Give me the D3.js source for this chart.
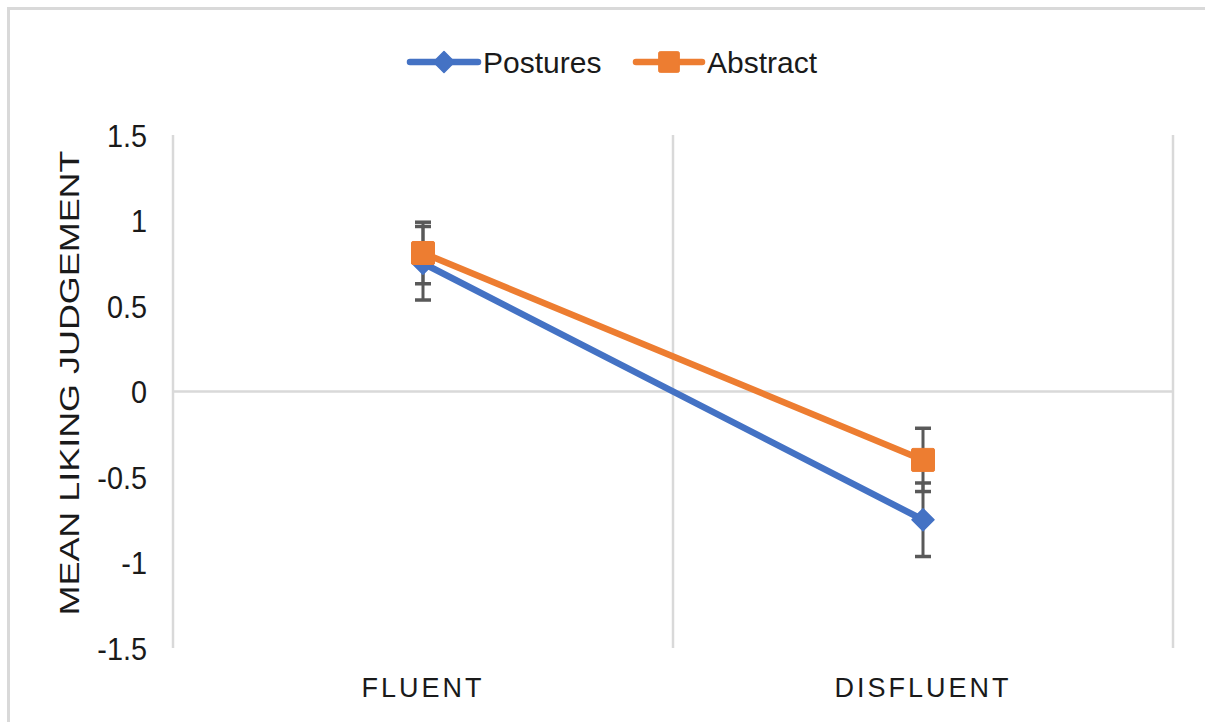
<!DOCTYPE html>
<html>
<head>
<meta charset="utf-8">
<script src="https://cdn.jsdelivr.net/npm/d3@7"></script>
<style>
  html, body { margin: 0; padding: 0; background: #fff; }
  svg { display: block; font-family: "Liberation Sans", Arial, Helvetica, sans-serif; }
</style>
</head>
<body>
<svg id="chart" width="1205" height="722"></svg>
<script>
// Conditions along the x axis
const categories = ["FLUENT", "DISFLUENT"];
// Series names
const seriesNames = ["Postures", "Abstract"];
// Mean liking judgement per condition
const posturesMeans = [0.75, -0.75];
const abstractMeans = [0.81, -0.40];
// Error (± half-length of error bars)
const posturesErrors = [0.215, 0.215];
const abstractErrors = [0.18, 0.185];
// Y axis ticks
const yTicks = [-1.5, -1, -0.5, 0, 0.5, 1, 1.5];
const yTitle = "MEAN LIKING JUDGEMENT";

const series = [
  { name: seriesNames[0], means: posturesMeans, errors: posturesErrors, color: "#4472C4", marker: "diamond" },
  { name: seriesNames[1], means: abstractMeans, errors: abstractErrors, color: "#ED7D31", marker: "square" }
];

const svg = d3.select("#chart");

// chart frame
svg.append("rect")
  .attr("x", 8.5).attr("y", 8.5)
  .attr("width", 1400).attr("height", 900)
  .attr("fill", "#fff").attr("stroke", "#d9d9d9").attr("stroke-width", 3);

const x = d3.scaleBand().domain(categories).range([173, 1173]);
const y = d3.scaleLinear().domain([-1.5, 1.5]).range([648, 135]);
const cx = c => x(c) + x.bandwidth() / 2;

const grid = svg.append("g");
// vertical grid lines at category boundaries
const bounds = categories.map(c => x(c)).concat([x(categories[categories.length - 1]) + x.bandwidth()]);
grid.selectAll("line.v").data(bounds).join("line")
  .attr("x1", d => d).attr("x2", d => d)
  .attr("y1", y(1.5)).attr("y2", y(-1.5))
  .attr("stroke", "#d9d9d9").attr("stroke-width", 2.5);
// horizontal zero line
grid.append("line")
  .attr("x1", 173).attr("x2", 1173)
  .attr("y1", y(0)).attr("y2", y(0))
  .attr("stroke", "#d9d9d9").attr("stroke-width", 2.5);

// y axis tick labels (slightly tall, narrow glyphs)
const yAxis = d3.axisLeft(y).tickValues(yTicks).tickSize(0).tickPadding(0)
  .tickFormat(d => String(d));
const yg = svg.append("g").attr("transform", "translate(147,0)").call(yAxis);
yg.select(".domain").remove();
yg.selectAll(".tick text")
  .attr("font-family", "'Liberation Sans', Arial, sans-serif")
  .attr("font-size", 31).attr("fill", "#1a1a1a")
  .attr("dy", "0.36em")
  .attr("transform", "scale(0.93,1)");

// x axis category labels
const xAxis = d3.axisBottom(x).tickSize(0).tickPadding(0);
const xg = svg.append("g").attr("transform", "translate(0,678)").call(xAxis);
xg.select(".domain").remove();
xg.selectAll("text")
  .attr("font-family", "'Liberation Sans', Arial, sans-serif")
  .attr("font-size", 27).attr("fill", "#1a1a1a")
  .attr("letter-spacing", "3px")
  .attr("dy", "0.71em");

// y axis title
svg.append("text")
  .attr("transform", `translate(79,383) rotate(-90)`)
  .attr("text-anchor", "middle")
  .attr("font-size", 27).attr("fill", "#1a1a1a")
  .attr("textLength", 465).attr("lengthAdjust", "spacingAndGlyphs")
  .text(yTitle);

function drawMarker(g, type, px, py, color, scale) {
  if (type === "diamond") {
    const h = 11 * scale;
    g.append("path")
      .attr("d", `M${px},${py - h}L${px + h},${py}L${px},${py + h}L${px - h},${py}Z`)
      .attr("fill", color).attr("stroke", color).attr("stroke-width", 1.5).attr("stroke-linejoin", "round");
  } else {
    const h = 11.5 * scale;
    g.append("rect")
      .attr("x", px - h).attr("y", py - h).attr("width", 2 * h).attr("height", 2 * h)
      .attr("rx", 1.5)
      .attr("fill", color).attr("stroke", color).attr("stroke-width", 1);
  }
}

const line = d3.line().x((d, i) => cx(categories[i])).y(d => y(d));

// series lines
const lines = svg.append("g");
series.forEach(s => {
  lines.append("path")
    .datum(s.means)
    .attr("d", line)
    .attr("fill", "none")
    .attr("stroke", s.color)
    .attr("stroke-width", 6.5)
    .attr("stroke-linecap", "round");
});

// error bars
const errG = svg.append("g");
series.forEach(s => {
  s.means.forEach((m, i) => {
    const px = cx(categories[i]);
    const hi = y(m + s.errors[i]), lo = y(m - s.errors[i]);
    errG.append("line").attr("x1", px).attr("x2", px).attr("y1", hi).attr("y2", lo)
      .attr("stroke", "#595959").attr("stroke-width", 3);
    [hi, lo].forEach(v => {
      errG.append("line").attr("x1", px - 8).attr("x2", px + 8).attr("y1", v).attr("y2", v)
        .attr("stroke", "#595959").attr("stroke-width", 3.5);
    });
  });
});

// markers
const markG = svg.append("g");
series.forEach(s => {
  s.means.forEach((m, i) => drawMarker(markG, s.marker, cx(categories[i]), y(m), s.color, 1));
});

// legend
const legend = svg.append("g");
const legendItems = [
  { s: series[0], x0: 410, x1: 478, tx: 483 },
  { s: series[1], x0: 636, x1: 702, tx: 707 }
];
legendItems.forEach(it => {
  const ly = 62;
  legend.append("line")
    .attr("x1", it.x0).attr("x2", it.x1).attr("y1", ly).attr("y2", ly)
    .attr("stroke", it.s.color).attr("stroke-width", 6.5).attr("stroke-linecap", "round");
  drawMarker(legend, it.s.marker, (it.x0 + it.x1) / 2, ly, it.s.color, it.s.marker === "diamond" ? 0.95 : 0.9);
  legend.append("text")
    .attr("x", it.tx).attr("y", 73)
    .attr("font-size", 30).attr("fill", "#1a1a1a")
    .text(it.s.name);
});
</script>
</body>
</html>
